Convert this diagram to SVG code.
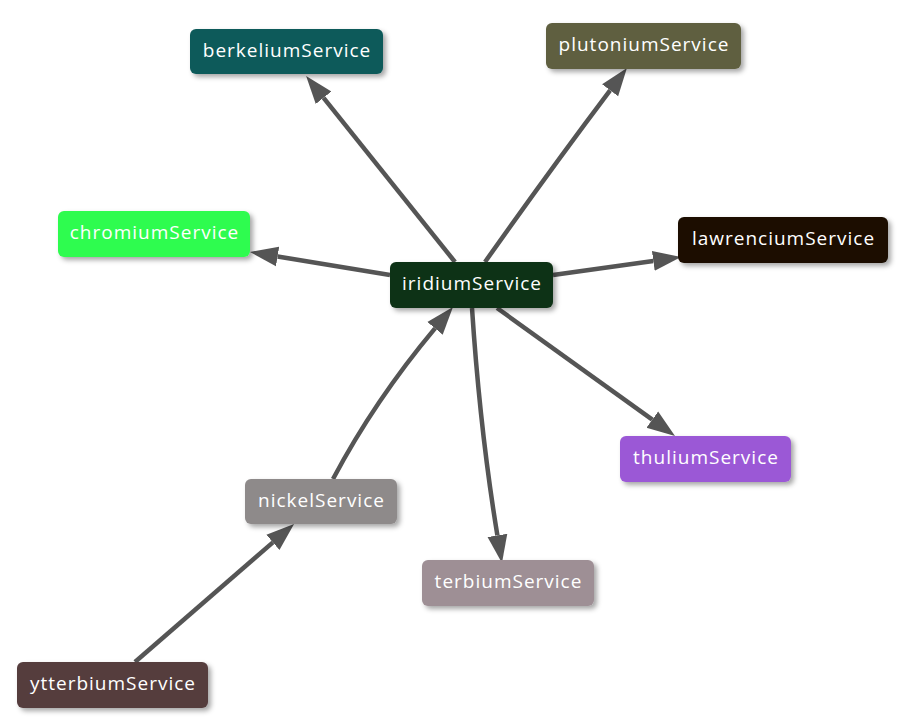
<svg xmlns="http://www.w3.org/2000/svg" width="898" height="728" viewBox="0 0 898 728">
<style>
.n rect{rx:6;ry:6;filter:url(#sh)}
.n text{font-family:"Open Sans",Lato,sans-serif;font-size:19px;letter-spacing:1px;fill:#fff;text-anchor:middle;dominant-baseline:central}
.e path{fill:none;stroke:#555;stroke-width:4.5;marker-end:url(#ah)}
</style>
<defs>
<filter id="sh" x="-20%" y="-30%" width="140%" height="160%">
<feDropShadow dx="3" dy="3" stdDeviation="2.5" flood-color="#000" flood-opacity="0.35"/>
</filter>
<marker id="ah" markerUnits="userSpaceOnUse" viewBox="0 -11 29 22" refX="0" refY="0" markerWidth="29" markerHeight="22" orient="auto">
<path d="M0,-10 L28,0 L0,10 z" fill="#555"/>
</marker>
</defs>
<rect width="898" height="728" fill="#fff"/>
<g id="connectors" class="e">
<path d="M455,262 L323.6,97.8"/>
<path d="M485,262 Q550,170 610.1,90.3"/>
<path d="M390,275 L277.6,256.5"/>
<path d="M553,275 L653.3,260.9"/>
<path d="M497,308 L652.3,419.6"/>
<path d="M472,308 Q480,430 497.4,535.4"/>
<path d="M333,479 Q375,400 435,328.4"/>
<path d="M135,662 L272.9,542.4"/>
</g>
<g id="berkeliumService" class="n"><rect x="190" y="29" width="193" height="45" fill="#0f5a5a"/><text x="287" y="49.5">berkeliumService</text></g>
<g id="plutoniumService" class="n"><rect x="546" y="23" width="195" height="46" fill="#5f5f3f"/><text x="644" y="44">plutoniumService</text></g>
<g id="chromiumService" class="n"><rect x="58" y="211" width="192" height="46" fill="#2efc4f"/><text x="154.5" y="232">chromiumService</text></g>
<g id="lawrenciumService" class="n"><rect x="678" y="217" width="210" height="46" fill="#1a0e02"/><text x="783.5" y="238">lawrenciumService</text></g>
<g id="iridiumService" class="n"><rect x="390" y="262" width="163" height="46" fill="#0f3016"/><text x="472" y="283">iridiumService</text></g>
<g id="thuliumService" class="n"><rect x="620" y="436" width="171" height="46" fill="#9b59d6"/><text x="706" y="457">thuliumService</text></g>
<g id="nickelService" class="n"><rect x="245" y="479" width="152" height="45" fill="#8e8a8a"/><text x="321.5" y="499.5">nickelService</text></g>
<g id="terbiumService" class="n"><rect x="422" y="560" width="172" height="46" fill="#9e8f95"/><text x="508.5" y="581">terbiumService</text></g>
<g id="ytterbiumService" class="n"><rect x="17" y="662" width="191" height="46" fill="#553c3d"/><text x="113" y="683">ytterbiumService</text></g>
</svg>
